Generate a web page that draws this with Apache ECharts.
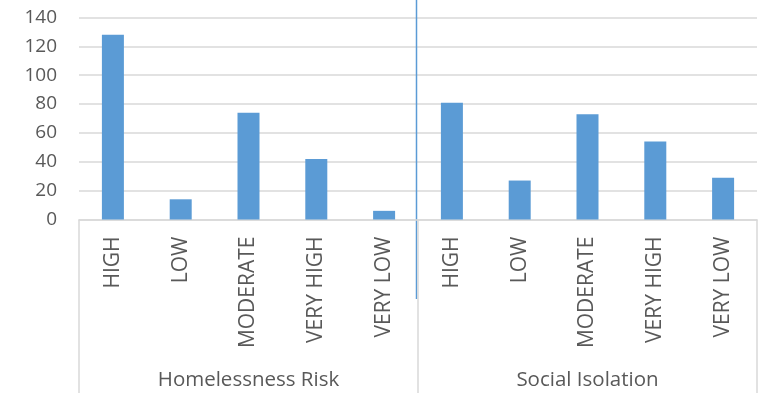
<!DOCTYPE html>
<html>
<head>
<meta charset="utf-8">
<script src="https://cdn.jsdelivr.net/npm/echarts@6/dist/echarts.min.js"></script>
<style>
  html, body { margin: 0; padding: 0; background: #fff; }
  #chart { width: 763px; height: 393px; }
</style>
</head>
<body>
<div id="chart"></div>
<script>
// 数据
const groups = ['Homelessness Risk', 'Social Isolation'];
const levels = ['HIGH', 'LOW', 'MODERATE', 'VERY HIGH', 'VERY LOW'];
const homelessness = [128, 14, 74, 42, 6];
const isolation = [81, 27, 73, 54, 29];
const yTicks = [0, 140, 20]; // min, max, interval

const categories = groups.flatMap(g => levels.map(l => g + '|' + l));
const values = homelessness.concat(isolation);

const font = '"Open Sans", sans-serif';
const textColor = '#595959';
const lineColor = '#d9d9d9';

const chart = echarts.init(document.getElementById('chart'));

chart.setOption({
    animation: false,
    grid: { left: 79, right: 6, top: 17.5, bottom: 173.5, containLabel: false },
    xAxis: [
        {
            type: 'category',
            data: categories,
            axisLine: { lineStyle: { color: lineColor, width: 1.5 } },
            axisTick: { show: false },
            axisLabel: {
                rotate: 90,
                margin: 17,
                color: textColor,
                fontFamily: font,
                fontSize: 21,
                formatter: v => v.split('|')[1]
            }
        },
        {
            type: 'category',
            data: groups,
            position: 'bottom',
            axisLine: { show: false },
            axisTick: { show: true, length: 174, lineStyle: { color: lineColor, width: 1.5 } },
            axisLabel: {
                margin: 150,
                color: textColor,
                fontFamily: font,
                fontSize: 20.5
            }
        }
    ],
    yAxis: {
        type: 'value',
        min: yTicks[0],
        max: yTicks[1],
        interval: yTicks[2],
        axisLine: { show: false },
        axisTick: { show: false },
        splitLine: { lineStyle: { color: lineColor, width: 1.5 } },
        axisLabel: { margin: 22, color: textColor, fontFamily: font, fontSize: 19 }
    },
    series: [{
        type: 'bar',
        xAxisIndex: 0,
        data: values,
        barWidth: 22,
        itemStyle: { color: '#5B9BD5' }
    }]
});

// 组间的蓝色竖线
const x4 = chart.convertToPixel({ xAxisIndex: 0 }, categories[4]);
const x5 = chart.convertToPixel({ xAxisIndex: 0 }, categories[5]);
const xMid = Math.round((x4 + x5) / 2) - 1.5;
chart.setOption({
    graphic: [{
        type: 'line',
        shape: { x1: xMid, y1: 0, x2: xMid, y2: 299 },
        style: { stroke: '#5B9BD5', lineWidth: 1.5 }
    }]
});
</script>
</body>
</html>
